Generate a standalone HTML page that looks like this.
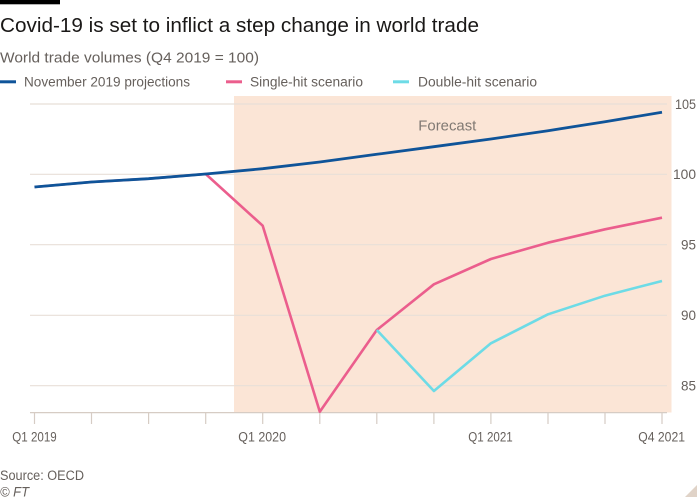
<!DOCTYPE html>
<html><head><meta charset="utf-8"><style>
html,body{margin:0;padding:0;background:#fff;}
svg{display:block;font-family:"Liberation Sans",sans-serif;}
</style></head><body>
<svg width="700" height="500" viewBox="0 0 700 500" xmlns="http://www.w3.org/2000/svg">
<rect x="0" y="0" width="700" height="500" fill="#fff"/>
<rect x="0" y="0" width="60" height="4.3" fill="#000"/>
<text x="0" y="32" font-size="20" fill="#1a1817" textLength="479" lengthAdjust="spacingAndGlyphs">Covid-19 is set to inflict a step change in world trade</text>
<text x="0" y="62.7" font-size="15" fill="#66605c" textLength="259" lengthAdjust="spacingAndGlyphs">World trade volumes (Q4 2019 = 100)</text>
<rect x="0" y="80.3" width="16" height="3" fill="#0f5499"/>
<text x="24" y="86.7" font-size="13.5" fill="#66605c" textLength="166" lengthAdjust="spacingAndGlyphs">November 2019 projections</text>
<rect x="226" y="80.3" width="16" height="3" fill="#eb5e8d"/>
<text x="250" y="86.7" font-size="13.5" fill="#66605c" textLength="113" lengthAdjust="spacingAndGlyphs">Single-hit scenario</text>
<rect x="393" y="80.3" width="16" height="3" fill="#6ddbe6"/>
<text x="418" y="86.7" font-size="13.5" fill="#66605c" textLength="119" lengthAdjust="spacingAndGlyphs">Double-hit scenario</text>

<rect x="234" y="96" width="437.5" height="316.5" fill="#fbe5d6"/>
<g stroke="#e8dfd8" stroke-width="1.2">
<line x1="30" y1="104" x2="667" y2="104"/>
<line x1="30" y1="174.3" x2="667" y2="174.3"/>
<line x1="30" y1="244.7" x2="667" y2="244.7"/>
<line x1="30" y1="315.3" x2="667" y2="315.3"/>
<line x1="30" y1="385.7" x2="667" y2="385.7"/>
</g>
<g stroke="#d6ccc4" stroke-width="1.2">
<line x1="30" y1="412.6" x2="667" y2="412.6"/>
<line x1="34.5" y1="412.6" x2="34.5" y2="424"/>
<line x1="91.5" y1="412.6" x2="91.5" y2="424"/>
<line x1="148.6" y1="412.6" x2="148.6" y2="424"/>
<line x1="205.7" y1="412.6" x2="205.7" y2="424"/>
<line x1="262.7" y1="412.6" x2="262.7" y2="424"/>
<line x1="319.8" y1="412.6" x2="319.8" y2="424"/>
<line x1="376.8" y1="412.6" x2="376.8" y2="424"/>
<line x1="433.9" y1="412.6" x2="433.9" y2="424"/>
<line x1="490.9" y1="412.6" x2="490.9" y2="424"/>
<line x1="548" y1="412.6" x2="548" y2="424"/>
<line x1="605" y1="412.6" x2="605" y2="424"/>
<line x1="662" y1="412.6" x2="662" y2="424"/>
</g>
<g font-size="13.5" fill="#66605c" text-anchor="end">
<text x="696" y="108.8" textLength="21" lengthAdjust="spacingAndGlyphs">105</text>
<text x="696" y="179.1" textLength="23" lengthAdjust="spacingAndGlyphs">100</text>
<text x="696" y="249.5" textLength="15" lengthAdjust="spacingAndGlyphs">95</text>
<text x="696" y="320.1" textLength="15" lengthAdjust="spacingAndGlyphs">90</text>
<text x="696" y="390.5" textLength="15" lengthAdjust="spacingAndGlyphs">85</text>
</g>
<text x="418.3" y="130.5" font-size="15" fill="#807973" textLength="58" lengthAdjust="spacingAndGlyphs">Forecast</text>

<g fill="none" stroke-linejoin="round" stroke-linecap="butt">
<polyline stroke="#eb5e8d" stroke-width="2.6" points="34.5,187 91.5,182 148.6,178.7 205.7,174 262.7,225.7 319.8,411.7 376.8,330 433.9,284.3 490.9,259 548,242.7 605,229.3 662,217.7"/>
<polyline stroke="#6ddbe6" stroke-width="2.6" points="376.8,330 433.9,391 490.9,343.3 548,314.3 605,295.7 662,281"/>
<polyline stroke="#0f5499" stroke-width="2.8" points="34.5,187 91.5,182 148.6,178.7 205.7,174 262.7,168.7 319.8,162 376.8,154.3 433.9,146.7 490.9,139 548,130.7 605,121.7 662,112.3"/>
</g>

<g font-size="13.5" fill="#66605c">
<text x="12.3" y="441.7" textLength="44.4" lengthAdjust="spacingAndGlyphs">Q1 2019</text>
<text x="238.3" y="441.7" textLength="47.7" lengthAdjust="spacingAndGlyphs">Q1 2020</text>
<text x="468.3" y="441.7" textLength="44.4" lengthAdjust="spacingAndGlyphs">Q1 2021</text>
<text x="638.3" y="441.7" textLength="46.7" lengthAdjust="spacingAndGlyphs">Q4 2021</text>
</g>
<text x="0" y="480" font-size="13.5" fill="#66605c" textLength="84" lengthAdjust="spacingAndGlyphs">Source: OECD</text>
<text x="0" y="496.5" font-size="13.5" font-style="italic" fill="#66605c" textLength="29" lengthAdjust="spacingAndGlyphs">© FT</text>
<polygon points="697,485 697,497 685,497" fill="#e0d3c8"/>
</svg>
</body></html>
